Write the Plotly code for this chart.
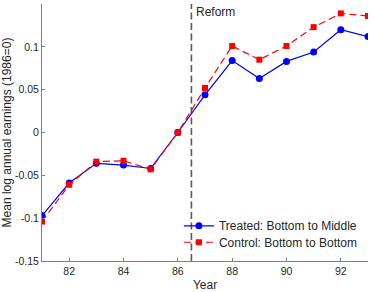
import plotly.graph_objects as go

years = [81, 82, 83, 84, 85, 86, 87, 88, 89, 90, 91, 92, 93]
treated = [-0.097, -0.059, -0.036, -0.038, -0.042, 0.0, 0.044, 0.084, 0.063, 0.083, 0.094, 0.120, 0.112]
control = [-0.104, -0.061, -0.034, -0.033, -0.043, 0.0, 0.052, 0.101, 0.085, 0.101, 0.123, 0.139, 0.136]
reform_year = 86.5
xticks = [82, 84, 86, 88, 90, 92]
yticks = [-0.15, -0.1, -0.05, 0, 0.05, 0.1, 0.15]
ytick_labels = ["-0.15", "-0.1", "-0.05", "0", "0.05", "0.1", "0.15"]

TXT = "#262626"
fig = go.Figure()
fig.add_trace(go.Scatter(x=years, y=treated, mode="lines+markers",
                         name="Treated: Bottom to Middle", legend="legend", showlegend=True,
                         line=dict(color="#0000ff", width=1.2),
                         marker=dict(symbol="circle", size=7, color="#0000ff")))
fig.add_trace(go.Scatter(x=years, y=control, mode="lines+markers",
                         name="Control: Bottom to Bottom", legend="legend2", showlegend=True,
                         line=dict(color="#ff0000", width=1.2, dash="7px,4px"),
                         marker=dict(symbol="square", size=6, color="#ff0000")))
fig.add_shape(type="line", x0=reform_year, x1=reform_year, y0=0, y1=1, xref="x", yref="paper",
              line=dict(color="#5a5a5a", width=1.6, dash="7px,3.5px"), layer="below")
fig.add_annotation(x=reform_year, y=0.15, xref="x", yref="y", text="Reform", showarrow=False,
                   xanchor="left", yanchor="top", xshift=3, yshift=1,
                   font=dict(size=12, color=TXT))

axis_common = dict(showgrid=False, zeroline=False, showline=True, linecolor="#7f7f7f", linewidth=1,
                   ticks="inside", ticklen=3, tickcolor="#7f7f7f", mirror=False, automargin=False,
                   tickfont=dict(size=10.5, color=TXT))
fig.update_xaxes(range=[81, 93], tickvals=xticks, ticktext=[str(t) for t in xticks],
                 title=dict(text="Year", font=dict(size=12, color=TXT)),
                 **axis_common)
fig.update_yaxes(range=[-0.15, 0.15], tickvals=yticks, ticktext=ytick_labels,
                 title=dict(text="Mean log annual earnings (1986=0)", font=dict(size=12, color=TXT)),
                 **axis_common)
leg_common = dict(xanchor="left", yanchor="middle", bgcolor="rgba(0,0,0,0)",
                  font=dict(size=12, color=TXT), itemwidth=30, borderwidth=0, visible=True)
fig.update_layout(width=372, height=292, margin=dict(l=42, r=4, t=4, b=31, autoexpand=False),
                  paper_bgcolor="white", plot_bgcolor="white", showlegend=True,
                  font=dict(family="Liberation Sans, Arial, sans-serif"),
                  legend=dict(x=0.42, y=0.137, **leg_common),
                  legend2=dict(x=0.42, y=0.073, **leg_common))
fig.write_html("out.html", config={"displayModeBar": False},
               post_script="document.body.style.margin='0';")
